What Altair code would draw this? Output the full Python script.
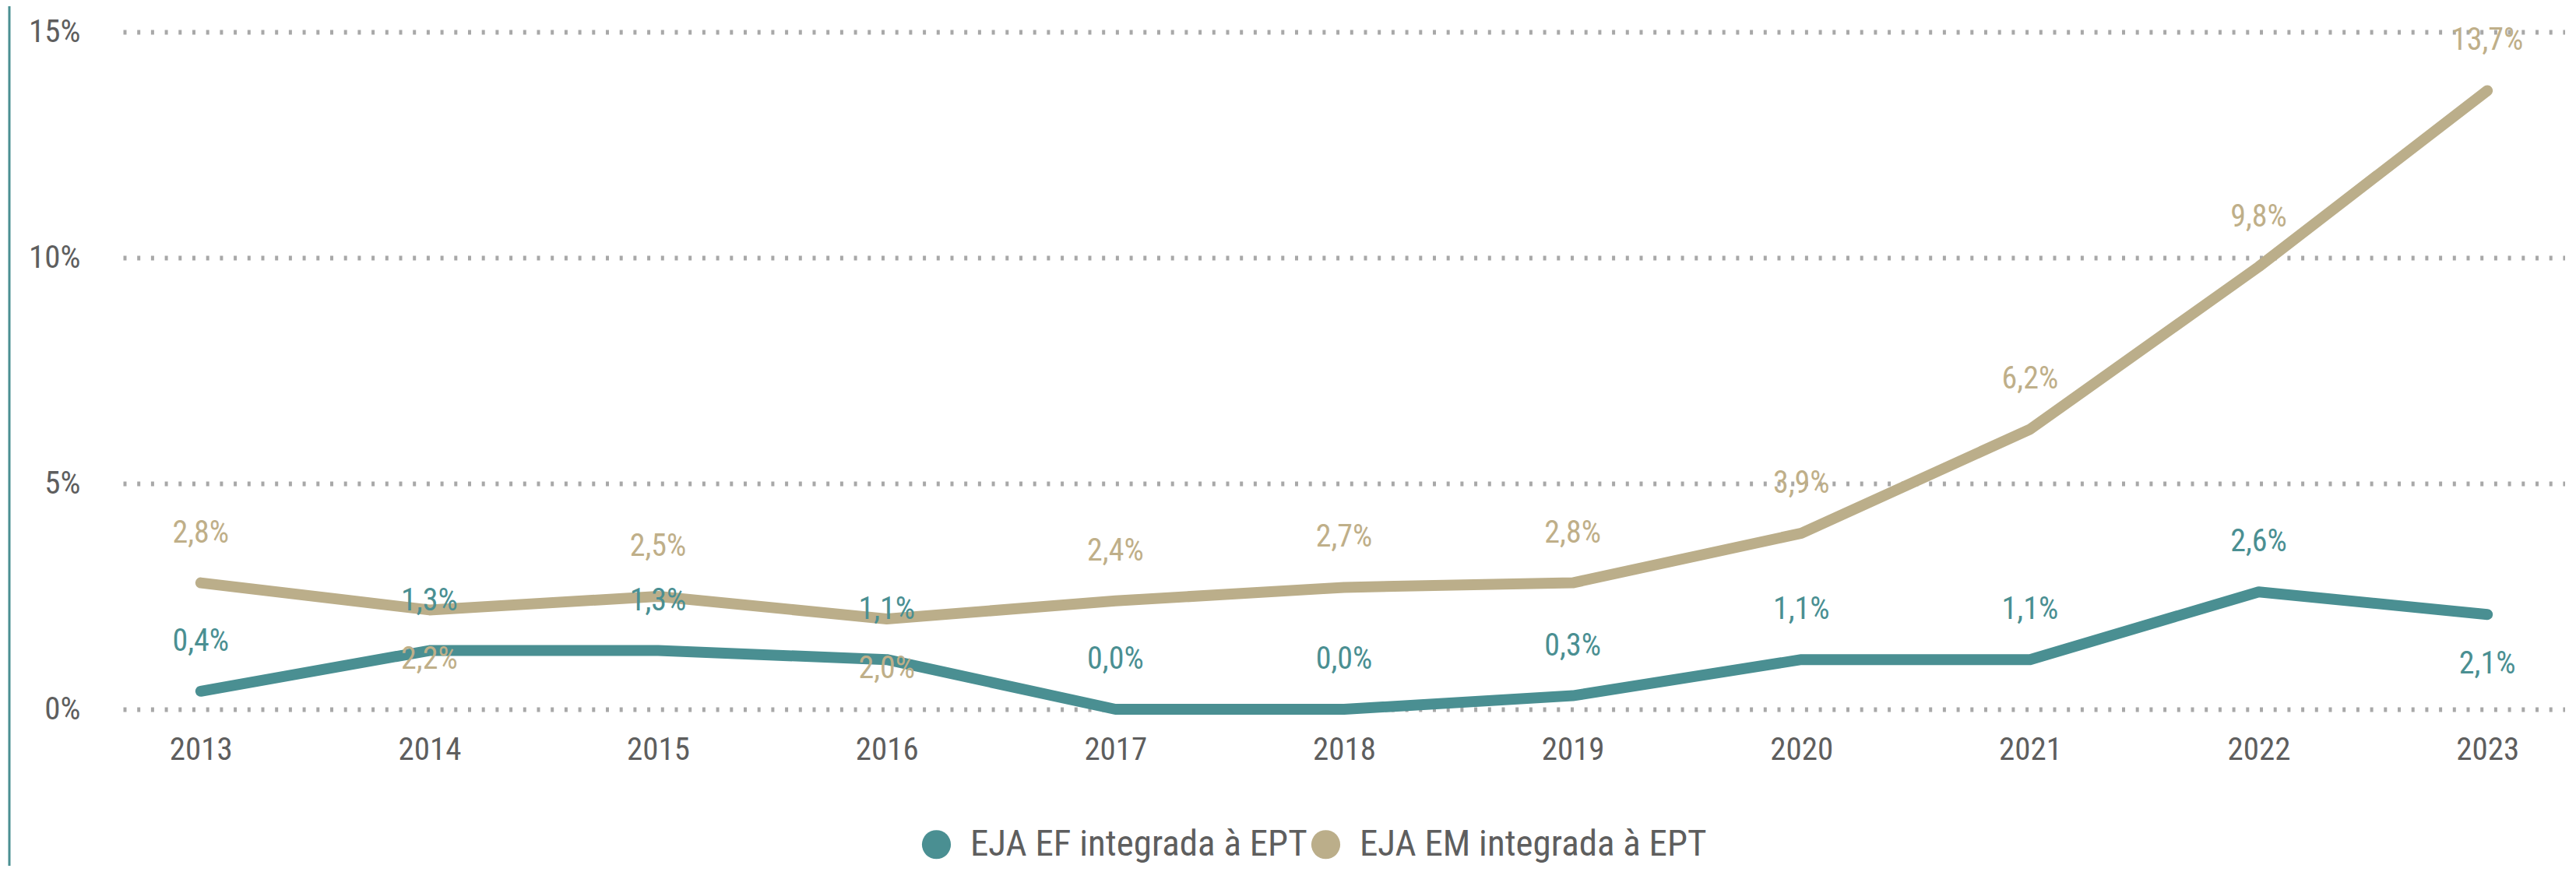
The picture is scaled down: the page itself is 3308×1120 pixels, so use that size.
import altair as alt
import pandas as pd

# ---- data ----
years = ["2013", "2014", "2015", "2016", "2017", "2018", "2019", "2020", "2021", "2022", "2023"]
ef_values = [0.4, 1.3, 1.3, 1.1, 0.0, 0.0, 0.3, 1.1, 1.1, 2.6, 2.1]
em_values = [2.8, 2.2, 2.5, 2.0, 2.4, 2.7, 2.8, 3.9, 6.2, 9.8, 13.7]
series_names = ["EJA EF integrada à EPT", "EJA EM integrada à EPT"]
y_ticks = [0, 5, 10, 15]

# label placement (above / below the point), as in the reference
ef_label_side = ["above"] * 10 + ["below"]
em_label_side = ["above", "below", "above", "below", "above", "above",
                 "above", "above", "above", "above", "above"]

# ---- styles ----
line_colors = ["#4A8F92", "#BBAE8A"]
label_colors = ["#4A8F92", "#BFAF89"]
FONT = "Roboto Condensed, Open Sans Condensed, Liberation Sans Narrow, DejaVu Sans Condensed, sans-serif"
TEXT_GRAY = "#5E5E5E"
AXIS_FS = 41
LABEL_FS = 40
LEGEND_FS = 47


def fmt(v):
    return f"{v:.1f}".replace(".", ",") + "%"


rows = []
for name, vals, sides in [(series_names[0], ef_values, ef_label_side),
                          (series_names[1], em_values, em_label_side)]:
    for y, v, s in zip(years, vals, sides):
        rows.append({"ano": y, "valor": v, "serie": name, "rotulo": fmt(v), "lado": s})
df = pd.DataFrame(rows)

x_enc = alt.X("ano:O", scale=alt.Scale(type="point", padding=0.34),
              axis=alt.Axis(title=None, labelAngle=0, domain=False, ticks=False,
                            labelPadding=32, labelFontSize=AXIS_FS, labelFont=FONT,
                            labelColor=TEXT_GRAY, grid=False))
y_enc = alt.Y("valor:Q", scale=alt.Scale(domain=[0, 15], nice=False),
              axis=alt.Axis(title=None, values=y_ticks, domain=False, ticks=False,
                            labelExpr="datum.value + '%'", labelPadding=55,
                            labelFontSize=AXIS_FS, labelFont=FONT, labelColor=TEXT_GRAY,
                            labelBaseline="middle",
                            grid=True, gridColor="#A8A8A8", gridWidth=6,
                            gridDash=[4, 13.7]))

line_scale = alt.Scale(domain=series_names, range=line_colors)
label_scale = alt.Scale(domain=series_names, range=label_colors)

base = alt.Chart(df)

lines = base.mark_line(strokeWidth=14, strokeCap="round", strokeJoin="round").encode(
    x=x_enc, y=y_enc,
    color=alt.Color("serie:N", scale=line_scale, legend=None),
)

legend_pts = base.mark_circle(opacity=0, size=1).encode(
    x=x_enc, y=y_enc,
    color=alt.Color("serie:N", scale=line_scale,
                    legend=alt.Legend(title=None, orient="none", direction="horizontal",
                                      legendX=1021, legendY=1020, padding=0,
                                      symbolType="circle", symbolSize=1385,
                                      symbolOpacity=1, symbolStrokeWidth=0,
                                      labelFontSize=LEGEND_FS, labelFont=FONT,
                                      labelColor=TEXT_GRAY, labelOffset=20,
                                      columnPadding=0, labelLimit=0)),
)

labels_above = base.transform_filter(alt.datum.lado == "above").mark_text(
    dy=-64, baseline="middle", align="center", fontSize=LABEL_FS, font=FONT
).encode(
    x=x_enc, y=y_enc, text="rotulo:N",
    color=alt.Color("serie:N", scale=label_scale, legend=None),
)

labels_below = base.transform_filter(alt.datum.lado == "below").mark_text(
    dy=64, baseline="middle", align="center", fontSize=LABEL_FS, font=FONT
).encode(
    x=x_enc, y=y_enc, text="rotulo:N",
    color=alt.Color("serie:N", scale=label_scale, legend=None),
)

border = alt.Chart(pd.DataFrame({"k": [0]})).mark_rule(
    color="#4A8F92", strokeWidth=3
).encode(x=alt.value(-146), y=alt.value(-41), y2=alt.value(1071))

chart = alt.layer(border, lines, legend_pts, labels_above, labels_below).resolve_scale(
    color="independent"
).properties(
    width=3136, height=870,
    background="white",
    autosize=alt.AutoSizeParams(type="none"),
    padding={"left": 150, "top": 33, "right": 0, "bottom": 201},
).configure_view(stroke=None)

chart.save("out.html", embed_options={"renderer": "svg", "actions": False})
